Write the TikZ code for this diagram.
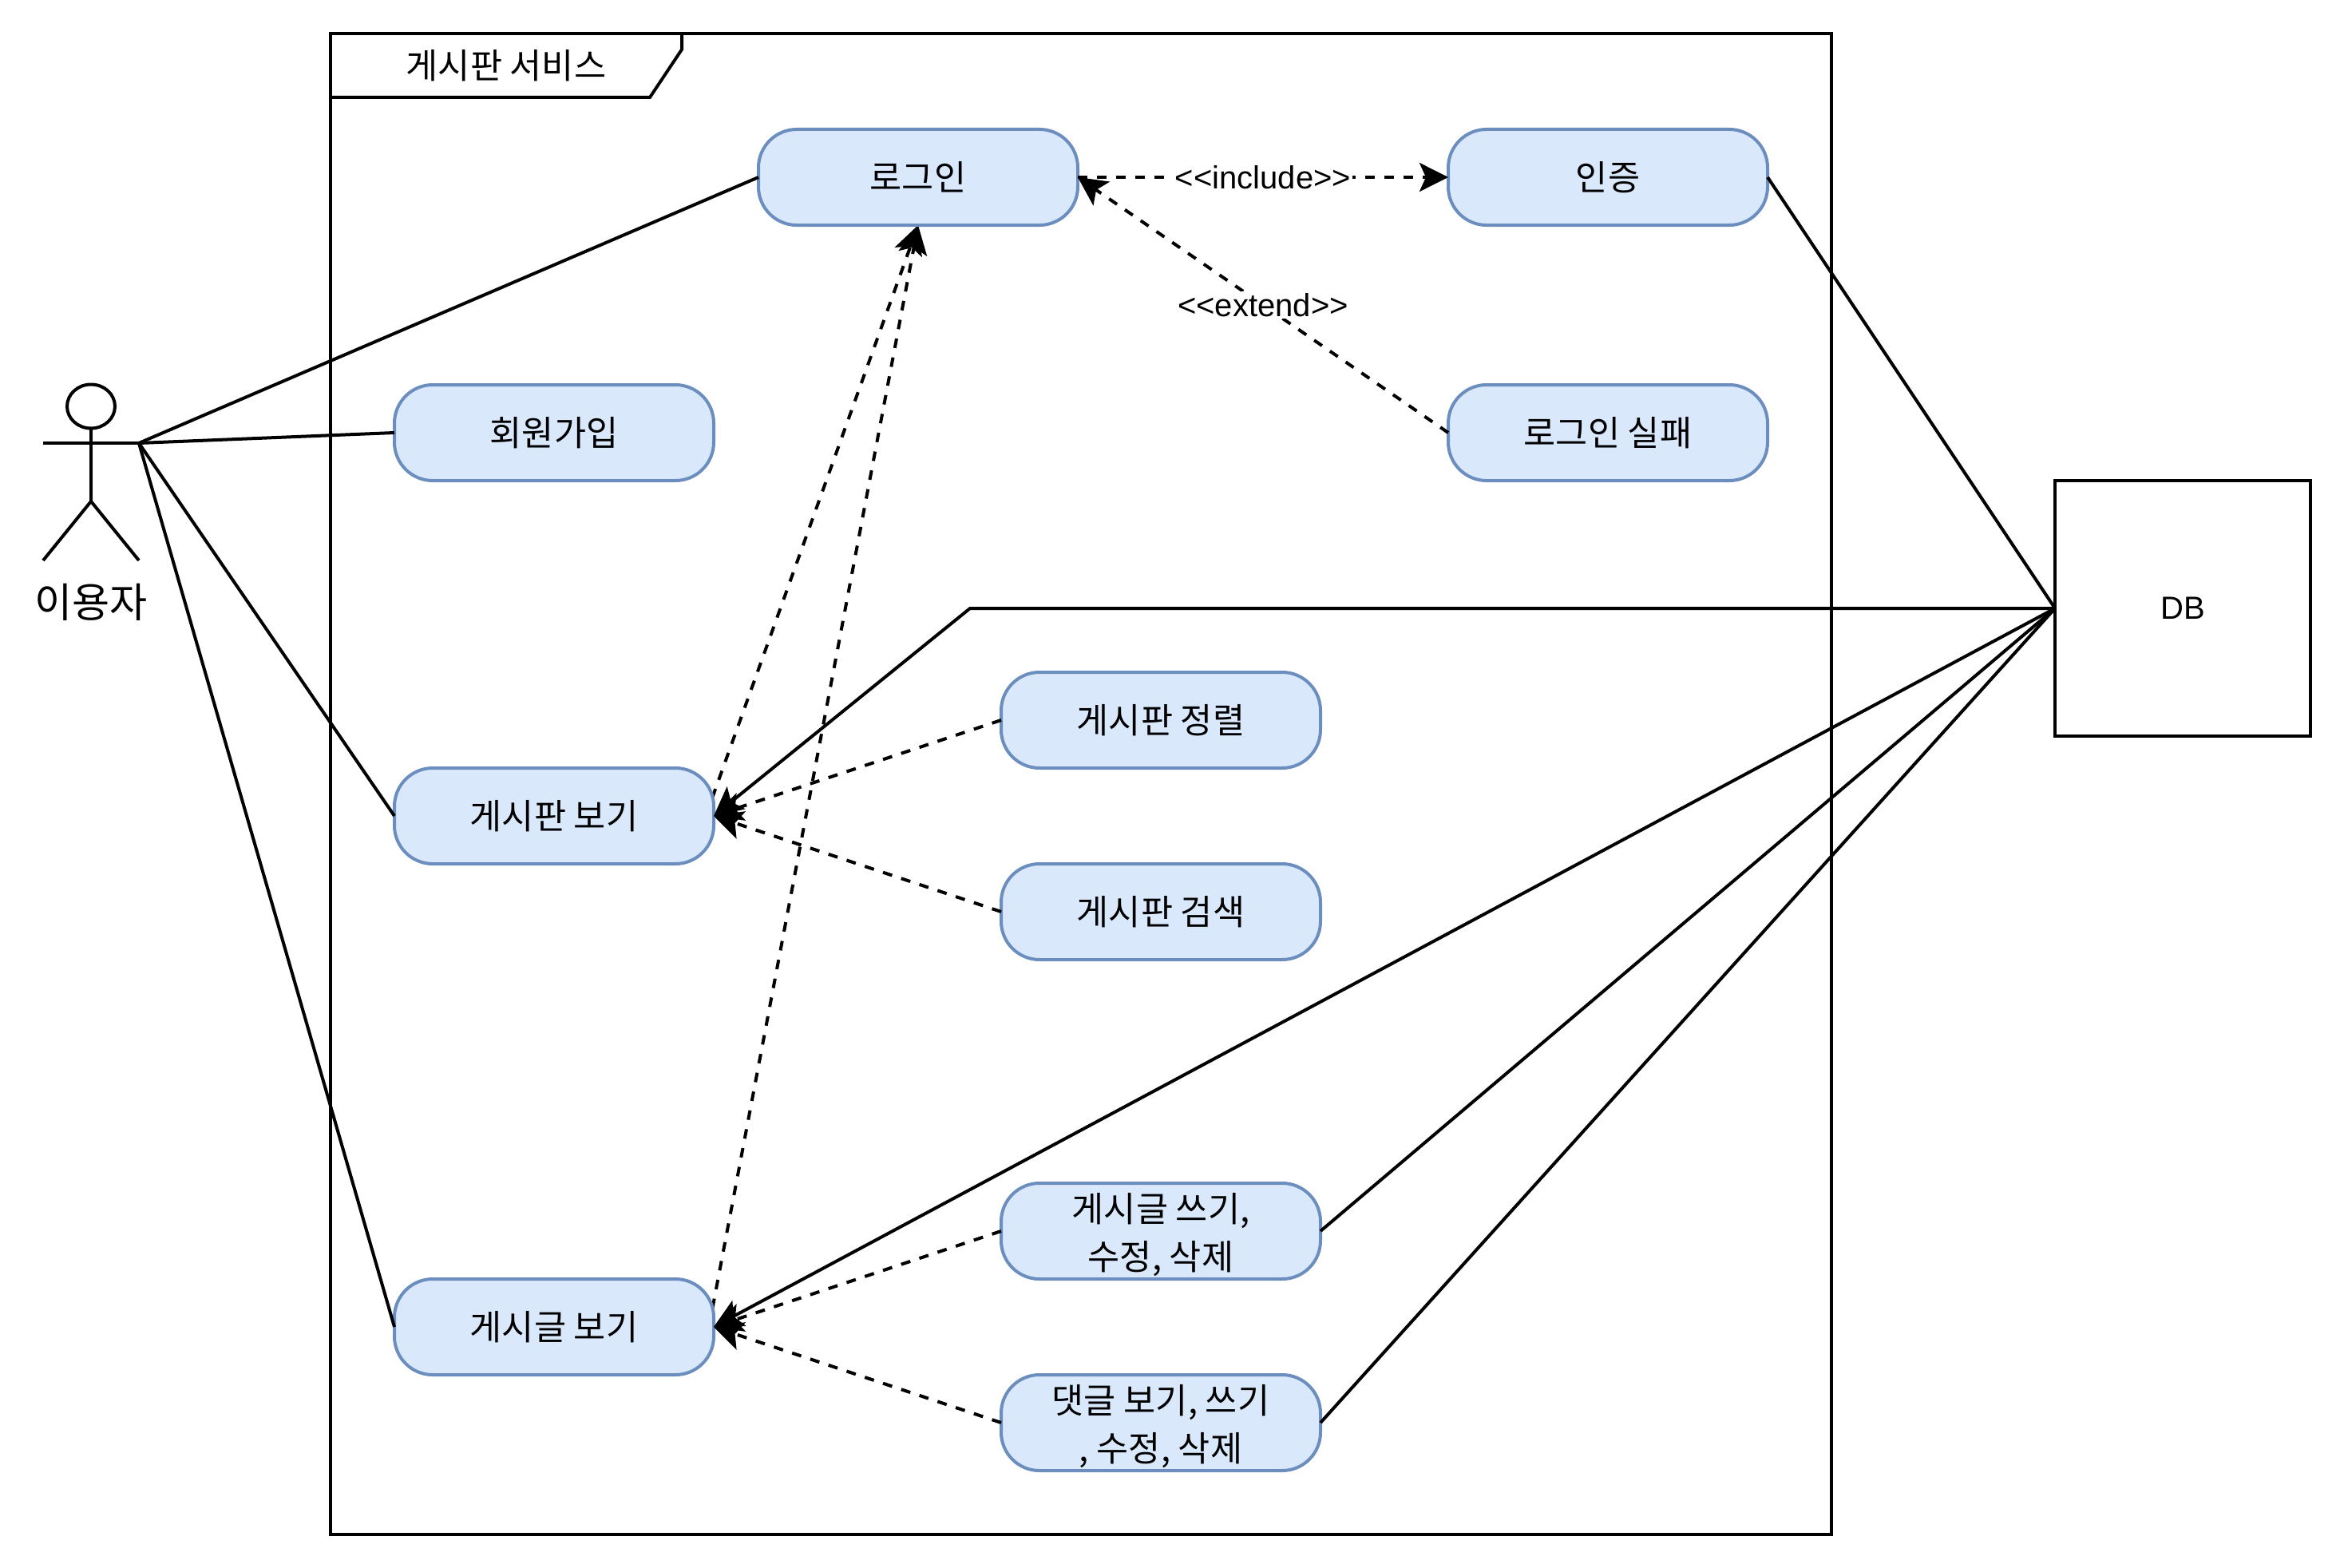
\documentclass[tikz,border=0pt]{standalone}
\usepackage{fontspec}
\setmainfont{Liberation Sans}
\newfontfamily\krfont{Noto Sans CJK KR}
\usetikzlibrary{arrows.meta, positioning, backgrounds}
\newcommand{\firstline}{\rule{0pt}{23pt}}
\tikzset{
  usecase/.style={rectangle, draw=ucline, fill=ucfill, rounded corners=24pt,
                  minimum width=200pt, minimum height=60pt, inner sep=0pt, outer sep=0pt,
                  align=center, font=\fontsize{21.8}{30}\selectfont\krfont, line width=2pt},
  boundary/.style={rectangle, draw=black, minimum width=940pt, minimum height=940pt,
                   inner sep=0pt, outer sep=0pt, line width=2pt},
  dbbox/.style={rectangle, draw=black, minimum width=160pt, minimum height=160pt,
                inner sep=0pt, outer sep=0pt, line width=2pt, font=\fontsize{20}{30}\selectfont},
  link/.style={draw=black, line width=2pt},
  arrow/.style={-{Stealth[length=18pt, width=18pt, inset=4pt]}, draw=black, line width=2pt},
  darrow/.style={arrow, dash pattern=on 6pt off 6pt},
  linklabel/.style={font=\fontsize{20}{24}\selectfont, fill=white, inner sep=1pt},
  krtext/.style={font=\fontsize{21.8}{30}\selectfont\krfont, inner sep=0pt},
}
\definecolor{ucline}{HTML}{6C8EBF}
\definecolor{ucfill}{HTML}{DAE8FC}
\begin{document}
\begin{tikzpicture}[x=1pt, y=1pt]
  \useasboundingbox (0,0) rectangle (1468,-982);

  % System boundary and its tab
  \node[boundary, anchor=north west] (service) at (207,-21) {};
  \draw[link] (207,-61) -- (407,-61) -- (427,-31) -- (427,-21);
  \node[krtext] (servicetitle) at (317,-41) {게시판 서비스};

  % Actor
  \draw[link] (57,-254.5) ellipse (15 and 13.75);
  \draw[link] (57,-268.25) -- (57,-314);
  \draw[link] (27,-351) -- (57,-314) -- (87,-351);
  \draw[link] (27,-277.5) -- (87,-277.5);
  \coordinate (hand) at (87,-277.5);
  \node[krtext, font=\fontsize{25.6}{30}\selectfont\krfont] (user) at (57,-377) {이용자};

  % Left column
  \node[usecase] (login) at (575,-111) {로그인};
  \node[usecase, below left=100pt and 28pt of login] (signup) {회원가입};
  \node[usecase, below=180pt of signup] (board) {게시판 보기};
  \node[usecase, below=260pt of board] (post) {게시글 보기};

  % Middle column
  \node[usecase, above right=0pt and 180pt of board] (sort) {게시판 정렬};
  \node[usecase, below right=0pt and 180pt of board] (search) {게시판 검색};
  \node[usecase, above right=0pt and 180pt of post] (write) {\firstline 게시글 쓰기,\\수정, 삭제};
  \node[usecase, below right=0pt and 180pt of post] (reply) {\firstline 댓글 보기, 쓰기\\, 수정, 삭제};

  % Right column
  \node[usecase, right=232pt of login] (auth) {인증};
  \node[usecase, below=100pt of auth] (fail) {로그인 실패};
  \node[dbbox, below right=160pt and 180pt of auth] (db) {DB};

  % Actor to use cases
  \draw[link] (hand) -- (login.west);
  \draw[link] (hand) -- (signup.west);
  \draw[link] (hand) -- (board.west);
  \draw[link] (hand) -- (post.west);

  % These two leave from behind their boxes
  \begin{scope}[on background layer]
    \draw[darrow] ([xshift=-5pt]board.east) -- (login.south);
    \draw[darrow] ([xshift=-3pt]post.east) -- (login.south);
  \end{scope}

  % Dependencies
  \draw[darrow] (login.east) -- node[linklabel] {<\kern0pt<include>\kern0pt>} (auth.west);
  \draw[darrow] (fail.west) -- node[linklabel] {<\kern0pt<extend>\kern0pt>} (login.east);
  \draw[darrow] (sort.west) -- (board.east);
  \draw[darrow] (search.west) -- (board.east);
  \draw[darrow] (write.west) -- (post.east);
  \draw[darrow] (reply.west) -- (post.east);

  % DB links
  \draw[link] (auth.east) -- (db.west);
  \draw[arrow] (db.west) -- (607.5,-381) -- (board.east);
  \draw[arrow] (db.west) -- (post.east);
  \draw[link] (write.east) -- (db.west);
  \draw[link] (reply.east) -- (db.west);
\end{tikzpicture}
\end{document}
